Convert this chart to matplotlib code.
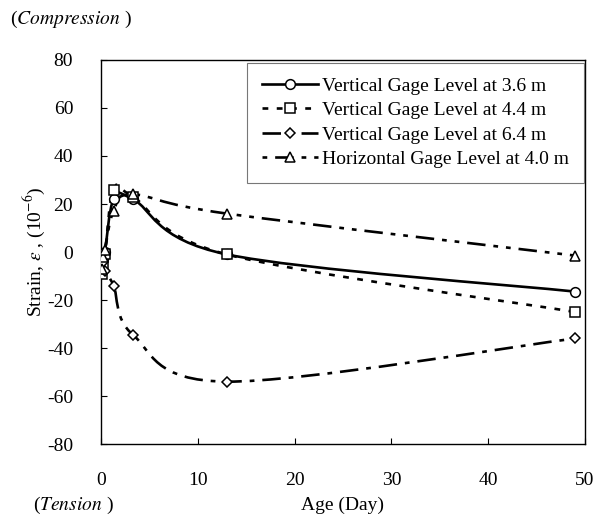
import numpy as np
import matplotlib
matplotlib.use("Agg")
import matplotlib.pyplot as plt
from matplotlib.path import Path
from matplotlib.patches import PathPatch
from matplotlib.lines import Line2D

# --- data ---
days = [0.05, 0.2, 0.4, 1.3, 3.3, 13.0, 49.0]
gage_36 = [-6, -3, 0, 22, 22, -1, -16.5]
gage_44 = [-9, -5, -1, 26, 23, -1, -25]
gage_64 = [-1, -4, -8, -14, -34.5, -54, -36]
horiz_40 = [-7, -2, 1, 17, 24, 16, -1.5]

labels = ["Vertical Gage Level at 3.6 m",
          "Vertical Gage Level at 4.4 m",
          "Vertical Gage Level at 6.4 m",
          "Horizontal Gage Level at 4.0 m"]
markers = ["o", "s", "D", "^"]
dashes = ["-", (0, (2.2, 3.2)), (0, (7, 3, 1.8, 3)), (0, (1.8, 3, 7, 3, 1.8, 3))]

plt.rcParams['font.family'] = ['Liberation Serif', 'DejaVu Serif']
plt.rcParams['mathtext.fontset'] = 'stix'
plt.rcParams['axes.unicode_minus'] = False


def smooth_path(x, y):
    # Excel style smoothed line: Catmull-Rom turned into cubic Bezier
    pts = np.column_stack([x, y]).astype(float)
    n = len(pts)
    verts = [pts[0]]
    codes = [Path.MOVETO]
    for i in range(n - 1):
        p0 = pts[i - 1] if i > 0 else pts[i]
        p1 = pts[i]
        p2 = pts[i + 1]
        p3 = pts[i + 2] if i + 2 < n else pts[i + 1]
        c1 = p1 + (p2 - p0) / 6.0
        c2 = p2 - (p3 - p1) / 6.0
        verts += [c1, c2, p2]
        codes += [Path.CURVE4] * 3
    return Path(verts, codes)


fig = plt.figure(figsize=(6.06, 5.23), dpi=100)
ax = fig.add_axes([0.1667, 0.151, 0.7986, 0.7343])

series = [gage_36, gage_44, gage_64, horiz_40]
handles = []
for vals, m, ls, lab in zip(series, markers, dashes, labels):
    patch = PathPatch(smooth_path(days, vals), fill=False, edgecolor='black',
                      lw=1.9, linestyle=ls, zorder=2)
    ax.add_patch(patch)
    ms = 5.5 if m == "D" else 7
    ax.plot(days, vals, ls='none', marker=m, ms=ms, mfc='white', mec='black',
            mew=1.1, zorder=3)
    handles.append(Line2D([], [], color='black', lw=1.9, linestyle=ls,
                          marker=m, ms=ms, mfc='white', mec='black', mew=1.1))

ax.set_xlim(0, 50)
ax.set_ylim(-80, 80)
ax.set_xticks(np.arange(0, 51, 10))
ax.set_yticks(np.arange(-80, 81, 20))
ax.tick_params(direction='in', length=4, width=0.8, labelsize=14)
ax.tick_params(axis='x', pad=20)
ax.tick_params(axis='y', pad=20)
for sp in ax.spines.values():
    sp.set_linewidth(1.0)

leg = ax.legend(handles, labels, loc='upper right', bbox_to_anchor=(0.997, 0.993),
                borderaxespad=0, fontsize=14, handlelength=2.9, handletextpad=0.2,
                labelspacing=0.35, fancybox=False, framealpha=1,
                edgecolor='#777777', borderpad=0.75)
leg.get_frame().set_linewidth(0.8)

ax.set_ylabel(r'Strain, $\varepsilon$ , (10$^{-6}$)', fontsize=14, labelpad=0)
ax.set_xlabel('Age (Day)', fontsize=14, labelpad=6)

fig.text(0.017, 0.962, r'($\it{Compression}$ )', fontsize=14, va='center')
fig.text(0.055, 0.034, r'($\it{Tension}$ )', fontsize=14, va='center')

fig.savefig('out.png', dpi=100)
